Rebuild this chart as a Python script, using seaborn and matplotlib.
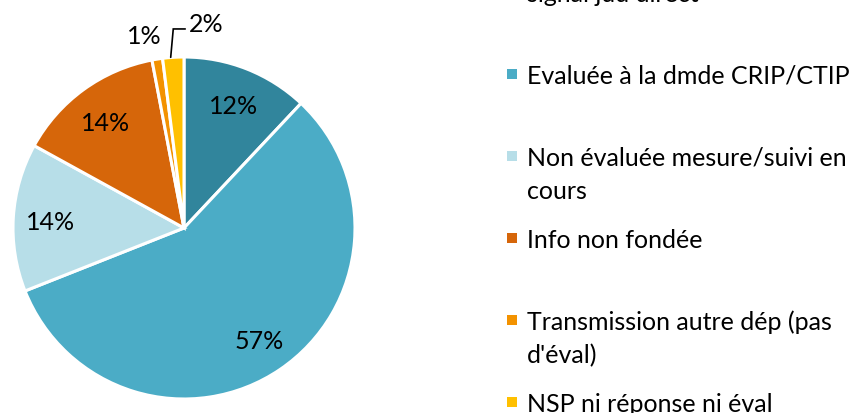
import numpy as np
import matplotlib.pyplot as plt
from matplotlib.patches import Rectangle
import seaborn as sns

# categories (first one is cut at the top of the picture)
categories = ["signal jud direct",
              "Evaluée à la dmde CRIP/CTIP",
              "Non évaluée mesure/suivi en\ncours",
              "Info non fondée",
              "Transmission autre dép (pas\nd'éval)",
              "NSP ni réponse ni éval"]
shares = [12, 57, 14, 14, 1, 2]
pct_labels = ["12%", "57%", "14%", "14%", "1%", "2%"]
colors = ["#31859C", "#4BACC6", "#B7DEE8", "#D6660A", "#F39200", "#FFC000"]

sns.set_theme(style="white")
plt.rcParams["font.family"] = ["Lato", "DejaVu Sans"]

W, H = 858, 414
fig = plt.figure(figsize=(W / 100, H / 100), dpi=100)

# pie: centre (184, 229) px, radius 171 px
ax = fig.add_axes([13 / W, 14 / H, 342 / W, 342 / H])
wedges, _ = ax.pie(shares, colors=colors, startangle=90, counterclock=False,
                   radius=1, wedgeprops=dict(edgecolor="white", linewidth=2.2))
ax.set_xlim(-1, 1)
ax.set_ylim(-1, 1)
ax.axis("off")

fs = 18
for w, lab, val in zip(wedges, pct_labels, shares):
    mid = np.deg2rad((w.theta1 + w.theta2) / 2)
    cx, cy = np.cos(mid), np.sin(mid)
    if val >= 5:
        ax.text(0.78 * cx, 0.78 * cy, lab, ha="center", va="center_baseline",
                fontsize=fs, color="black")
    elif val == 1:
        ax.text(1.17 * cx - 0.05, 1.15 * cy, lab, ha="center",
                va="center_baseline", fontsize=fs, color="black")
    else:
        # elbow leader line from wedge edge
        x0, y0 = cx - 0.015, cy
        ytop = 1.164
        x1 = x0 + 0.085
        ax.plot([x0, x0 + 0.015, x1], [y0, ytop, ytop], color="black",
                lw=1.2, clip_on=False, solid_joinstyle="miter")
        ax.text(x1 + 0.02, ytop + 0.045, lab, ha="left", va="center_baseline",
                fontsize=fs, color="black")

# legend, evenly spaced entries
y_first, step, line_gap = -7, 82, 33
for i, (lab, col) in enumerate(zip(categories, colors)):
    ypx = y_first + i * step
    fig.add_artist(Rectangle((507 / W, 1 - (ypx + 5) / H), 10 / W, 10 / H,
                             transform=fig.transFigure, facecolor=col,
                             edgecolor="none"))
    for j, line in enumerate(lab.split("\n")):
        fig.text(527 / W, 1 - (ypx + 9 + j * line_gap) / H, line, ha="left",
                 va="baseline", fontsize=fs, color="black")

fig.savefig("out.png", dpi=100)
